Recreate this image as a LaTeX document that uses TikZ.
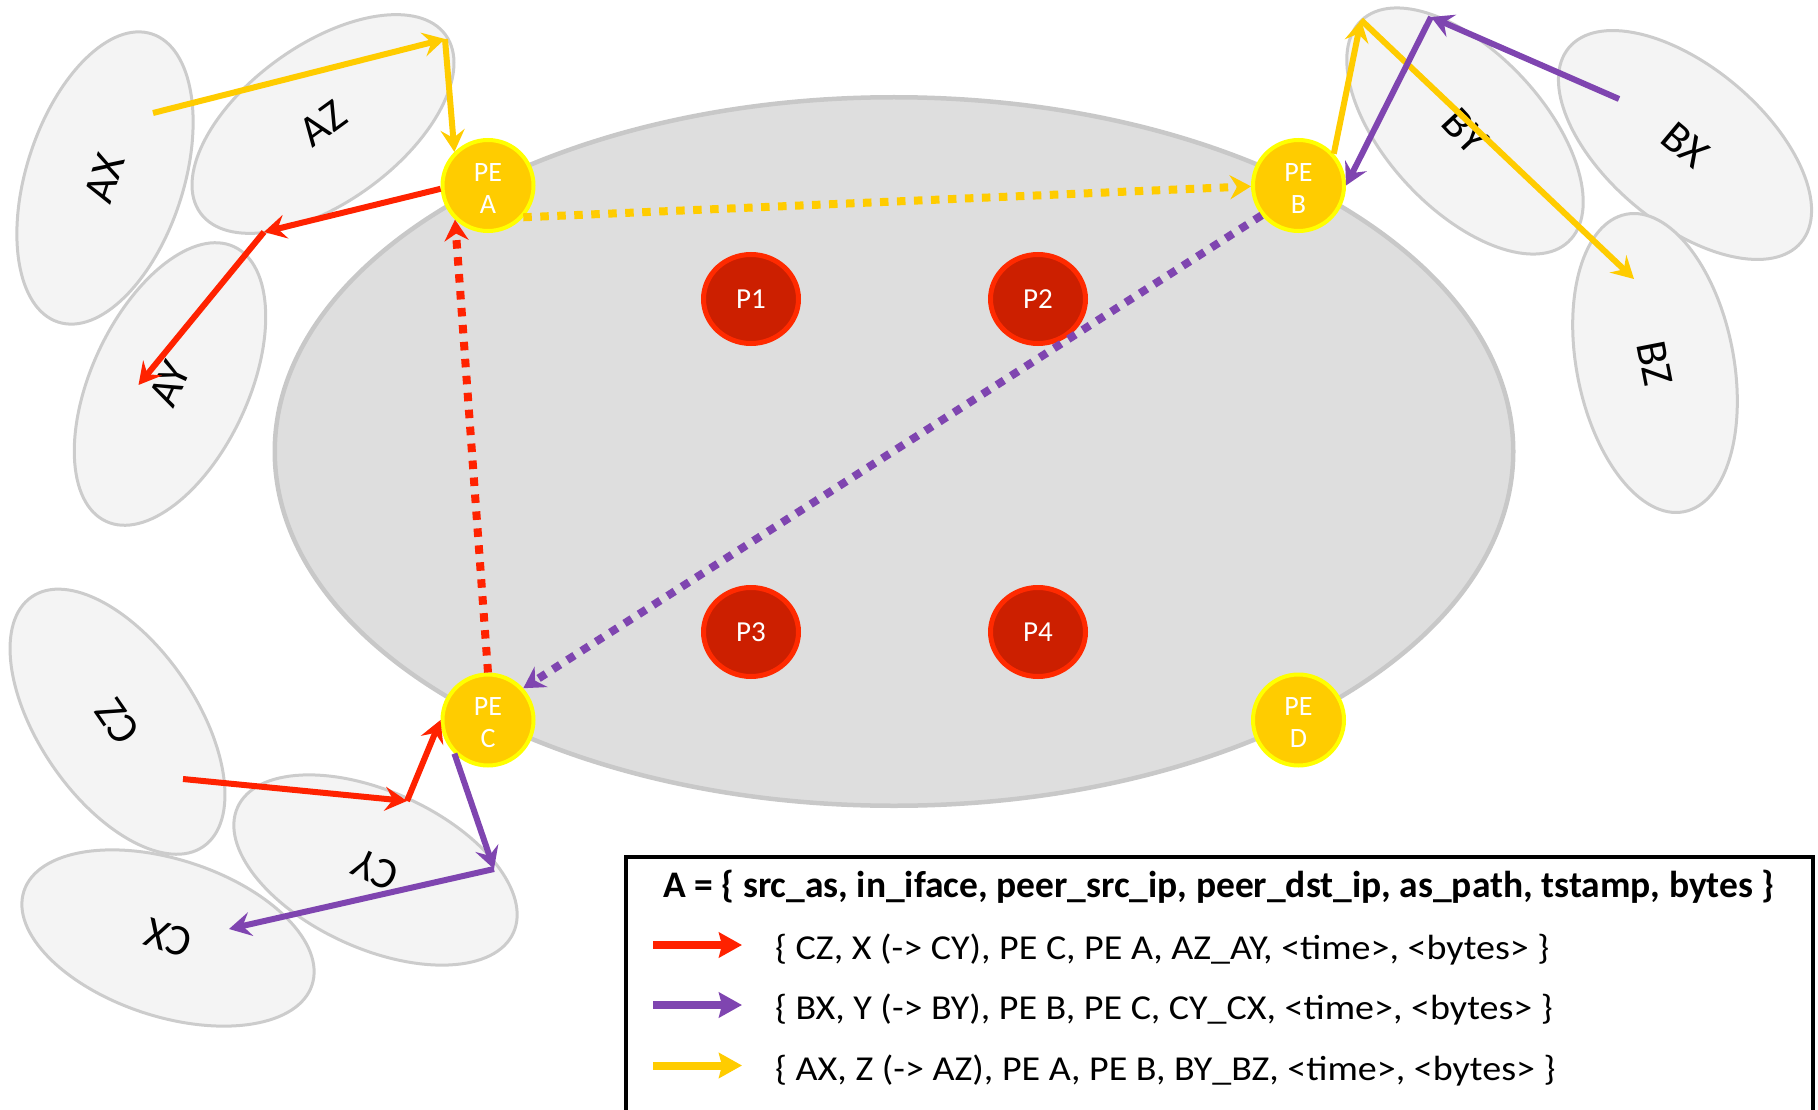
\documentclass[tikz,border=0pt]{standalone}
\usepackage{fontspec}
\setmainfont{Carlito}
\newfontfamily\legfont[FakeStretch=1.086]{Carlito}
\usetikzlibrary{arrows.meta,shapes.geometric}
\definecolor{yel}{HTML}{FFCC00}
\definecolor{yeledge}{HTML}{FFFF00}
\definecolor{pfill}{HTML}{CC1F00}
\definecolor{pedge}{HTML}{FF2A00}
\definecolor{ared}{HTML}{FF2200}
\definecolor{apur}{HTML}{7F45B0}
\definecolor{corefill}{HTML}{DEDEDE}
\definecolor{coreedge}{HTML}{C8C8C8}
\definecolor{asfill}{HTML}{F4F4F4}
\definecolor{asedge}{HTML}{CCCCCC}
\tikzset{
  coreell/.style={ellipse, draw=coreedge, fill=corefill, line width=4.5pt, minimum width=1238.5pt, minimum height=708.5pt, inner sep=0pt},
  asell/.style={ellipse, draw=asedge, fill=asfill, line width=3pt, minimum width=303pt, minimum height=157pt, inner sep=0pt, font=\fontsize{44}{44}\selectfont},
  penode/.style={circle, fill=yel, draw=yeledge, line width=4pt, minimum size=91pt, inner sep=0pt},
  pelabel/.style={text=white, align=center, inner sep=0pt, yshift=-3pt, font=\fontsize{28}{32}\selectfont},
  pnode/.style={ellipse, fill=pfill, draw=pedge, line width=5pt, minimum width=95pt, minimum height=89pt, inner sep=0pt, text=white, font=\fontsize{29}{29}\selectfont},
  arr/.style={line width=6pt, -{Stealth[length=22pt,width=24pt,inset=8pt]}},
  dotarr/.style={line width=8pt, dash pattern=on 8.5pt off 8.5pt, -{Stealth[length=21pt,width=24pt,inset=7pt]}},
  legarr/.style={line width=8pt, -{Stealth[length=23pt,width=25pt,inset=3pt]}},
  rowtext/.style={anchor=west, inner sep=0pt, font=\legfont\fontsize{35}{35}\selectfont},
}
\begin{document}
\begin{tikzpicture}[x=1pt,y=-1pt]
\useasboundingbox (0,0) rectangle (1818,1110);
\clip (0,0) rectangle (1818,1110);
% core network
\node[coreell] (core) at (894,451.5) {};
% peripheral ASes
\node[asell, rotate=72] (ax) at (105,178) {AX};
\node[asell, rotate=36] (az) at (323,124) {AZ};
\node[asell, rotate=65] (ay) at (170,384) {AY};
\node[asell, rotate=-47] (by) at (1465,131) {BY};
\node[asell, rotate=-40] (bx) at (1685,145) {BX};
\node[asell, rotate=-79] (bz) at (1655,363) {BZ};
\node[asell, rotate=124.5] (cz) at (117.5,721.7) {CZ};
\node[asell, rotate=162] (cx) at (168,938) {CX};
\node[asell, rotate=155.5] (cy) at (375.5,870) {CY};
% P routers
\node[pnode] (p1) at (751,299) {P1};
\node[pnode] (p2) at (1038,299) {P2};
\node[pnode] (p3) at (751,632) {P3};
\node[pnode] (p4) at (1038,632) {P4};
% PE routers
\node[penode, label={[pelabel]center:PE\\A}] (pea) at (488,185.5) {};
\node[penode, label={[pelabel]center:PE\\B}] (peb) at (1298.5,185.5) {};
\node[penode, label={[pelabel]center:PE\\C}] (pec) at (488,720) {};
\node[penode, label={[pelabel]center:PE\\D}] (ped) at (1298.5,720) {};
% yellow flow
\coordinate (ax0) at (153,113);
\coordinate (azk) at (445,39);
\coordinate (byk) at (1361,20);
\coordinate (bz0) at (1634,279);
\draw[arr, yel] (ax0) -- (azk);
\draw[arr, yel] (azk) -- (pea.135);
\draw[dotarr, yel] (pea.-42) -- (peb.181);
\draw[arr, yel] (peb.42) -- (byk);
\draw[arr, yel] (byk) -- (bz0);
% purple flow
\coordinate (bx0) at (1619,99);
\coordinate (byp) at (1431,17);
\coordinate (cyk) at (494,869);
\coordinate (cx0) at (229,929);
\draw[arr, apur] (bx0) -- (byp);
\draw[arr, apur] (byp) -- (peb.0);
\draw[dotarr, apur] (peb.219) -- (pec.42);
\draw[arr, apur] (pec.225) -- (cyk);
\draw[arr, apur] (cyk) -- (cx0);
% red flow
\coordinate (cz0) at (183,779);
\coordinate (cyr) at (407,801);
\coordinate (azr) at (264,232);
\coordinate (ay0) at (138.5,385);
\draw[arr, ared] (cz0) -- (cyr);
\draw[arr, ared] (cyr) -- (pec.180);
\draw[dotarr, ared] (pec.north) -- (pea.226);
\draw[arr, ared] (pea.184) -- (azr);
\draw[arr, ared] (azr) -- (ay0);
% legend
\node[draw=black, fill=white, line width=4pt, minimum width=1187pt, minimum height=270pt, inner sep=0pt, anchor=north west] (legend) at (623.5,855) {};
\node[inner sep=0pt, font=\bfseries\fontsize{37.5}{37.5}\selectfont] (title) at (1219,887) {A = \{ src\_as, in\_iface, peer\_src\_ip, peer\_dst\_ip, as\_path, tstamp, bytes \}};
\coordinate (l1a) at (653,945);
\coordinate (l1b) at (742,945);
\coordinate (l2a) at (653,1005);
\coordinate (l2b) at (742,1005);
\coordinate (l3a) at (653,1065.5);
\coordinate (l3b) at (742,1065.5);
\draw[legarr, ared] (l1a) -- (l1b);
\draw[legarr, apur] (l2a) -- (l2b);
\draw[legarr, yel] (l3a) -- (l3b);
\node[rowtext] (r1) at (775,950) {\{ CZ, X (-> CY), PE C, PE A, AZ\_AY, <time>, <bytes> \}};
\node[rowtext] (r2) at (775,1010) {\{ BX, Y (-> BY), PE B, PE C, CY\_CX, <time>, <bytes> \}};
\node[rowtext] (r3) at (775,1070.5) {\{ AX, Z (-> AZ), PE A, PE B, BY\_BZ, <time>, <bytes> \}};
\end{tikzpicture}
\end{document}
